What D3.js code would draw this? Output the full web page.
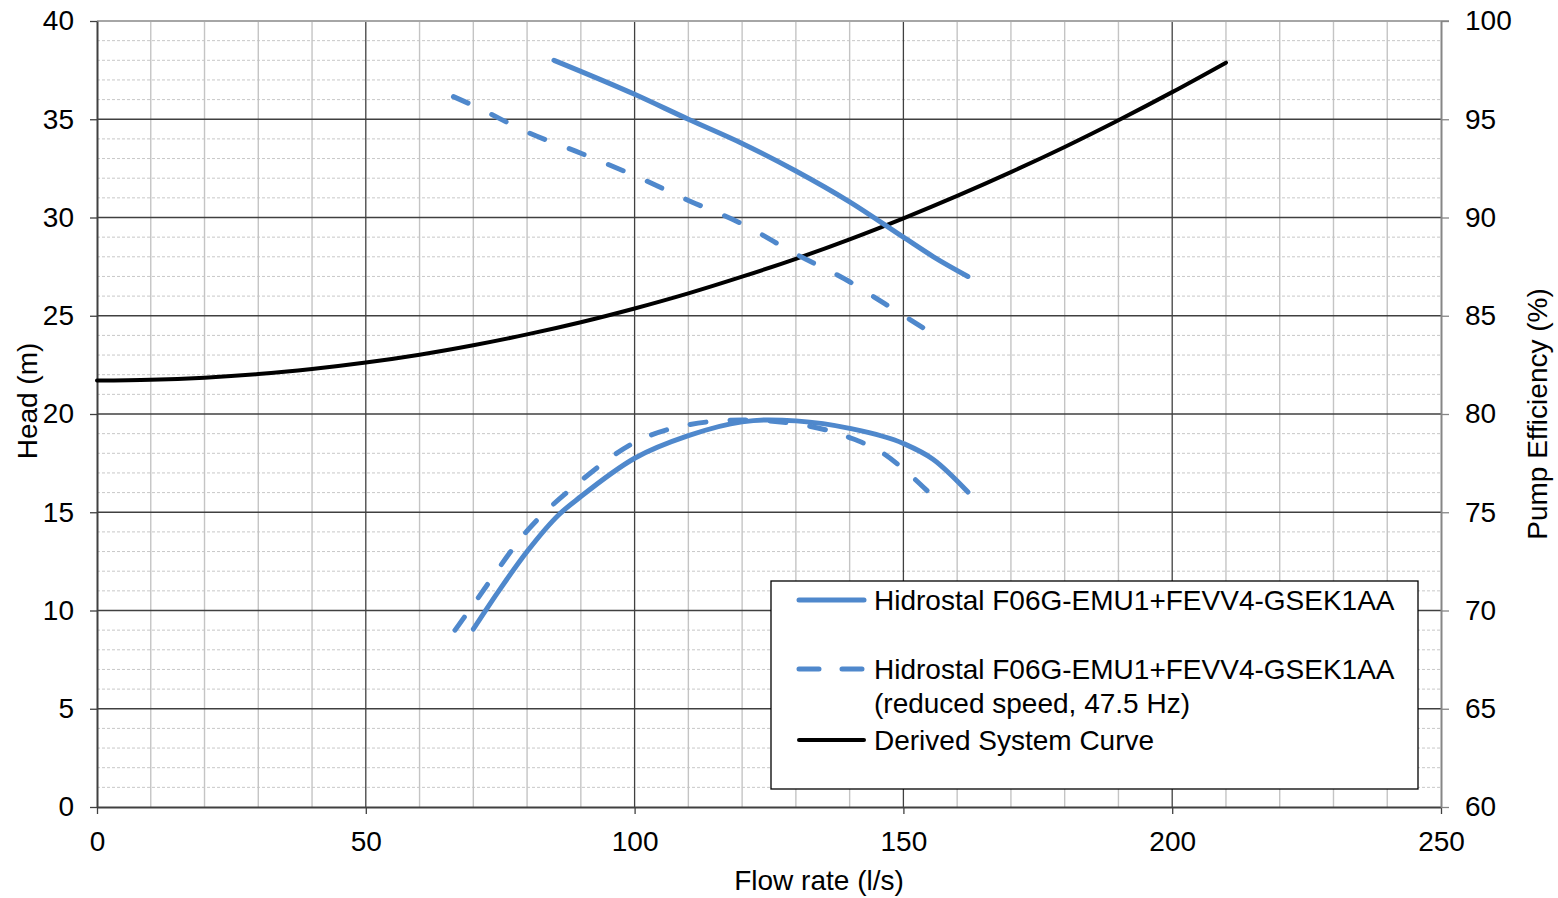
<!DOCTYPE html>
<html>
<head>
<meta charset="utf-8">
<script src="https://cdn.jsdelivr.net/npm/d3@7"></script>
<style>
  html, body { margin: 0; padding: 0; background: #fff; }
  svg { display: block; font-family: "Liberation Sans", Arial, sans-serif; }
</style>
</head>
<body>
<svg id="chart" width="1558" height="898"></svg>
<script>
// Pump head curves (left axis, m) and efficiency curves (right axis, %)
const headFullFlow = [85, 100, 110, 120, 130, 140, 150, 155.6, 162];
const headFullVal  = [38.0, 36.27, 35.0, 33.77, 32.37, 30.8, 29.0, 28.0, 27.0];

const headRedFlow = [66.3, 70, 80, 90, 100, 110, 120, 130, 140, 146.6, 153.6];
const headRedVal  = [36.15, 35.7, 34.35, 33.27, 32.13, 30.87, 29.67, 28.14, 26.73, 25.6, 24.4];

const effFullFlow = [70, 75, 80, 86, 90, 100, 110, 120, 125, 130, 140, 150, 155.5, 162];
const effFullVal  = [69.05, 71.1, 73.0, 74.9, 75.8, 77.75, 78.9, 79.6, 79.7, 79.65, 79.27, 78.5, 77.7, 76.03];

const effRedFlow = [66.6, 70, 80, 90, 100, 110, 120, 130, 140, 146.5, 150, 154.4];
const effRedVal  = [69.0, 70.3, 74.05, 76.6, 78.55, 79.45, 79.7, 79.5, 78.8, 77.95, 77.2, 76.1];

// Derived system curve (left axis, m)
const sysFlow = [0, 10, 20, 30, 40, 50, 60, 70, 80, 90, 100, 110, 120, 130, 140, 150, 160, 170, 180, 190, 200, 210];
const sysVal  = [21.70, 21.74, 21.85, 22.03, 22.29, 22.62, 23.02, 23.50, 24.05, 24.67, 25.37, 26.14, 26.99, 27.90, 28.89, 29.96, 31.10, 32.31, 33.59, 34.95, 36.38, 37.88];

const xTicks = [0, 50, 100, 150, 200, 250];
const yLeftTicks = [0, 5, 10, 15, 20, 25, 30, 35, 40];
const yRightTicks = [60, 65, 70, 75, 80, 85, 90, 95, 100];

const legendLabels = [
  ["Hidrostal F06G-EMU1+FEVV4-GSEK1AA"],
  ["Hidrostal F06G-EMU1+FEVV4-GSEK1AA", "(reduced speed, 47.5 Hz)"],
  ["Derived System Curve"]
];

const BLUE = "#4f88cc";
const FONT = "28px";
const svg = d3.select("#chart");
const L = 97, R = 1441, T = 21, B = 807;

const x = d3.scaleLinear().domain([0, 250]).range([L, R]);
const yL = d3.scaleLinear().domain([0, 40]).range([B, T]);
const yR = d3.scaleLinear().domain([60, 100]).range([B, T]);

// grid: minor horizontal (dashed), minor vertical (solid light)
const grid = svg.append("g");
grid.selectAll(".hminor").data(d3.range(0, 41, 1).filter(v => v % 5 !== 0)).join("line")
  .attr("x1", L).attr("x2", R).attr("y1", d => yL(d)).attr("y2", d => yL(d))
  .attr("stroke", "#c8c8c8").attr("stroke-width", 1).attr("stroke-dasharray", "3,2");
grid.selectAll(".vminor").data(d3.range(0, 251, 10).filter(v => v % 50 !== 0)).join("line")
  .attr("x1", d => x(d)).attr("x2", d => x(d)).attr("y1", T).attr("y2", B)
  .attr("stroke", "#c4c4c4").attr("stroke-width", 1.4);
// major grid
grid.selectAll(".hmajor").data(yLeftTicks.filter(v => v > 0 && v < 40)).join("line")
  .attr("x1", L).attr("x2", R).attr("y1", d => yL(d)).attr("y2", d => yL(d))
  .attr("stroke", "#404040").attr("stroke-width", 1.3);
grid.selectAll(".vmajor").data(xTicks.filter(v => v > 0 && v < 250)).join("line")
  .attr("x1", d => x(d)).attr("x2", d => x(d)).attr("y1", T).attr("y2", B)
  .attr("stroke", "#404040").attr("stroke-width", 1.3);

// top frame line
svg.append("line").attr("x1", L).attr("x2", R + 8).attr("y1", T).attr("y2", T)
  .attr("stroke", "#a6a6a6").attr("stroke-width", 2);

// axes
function styleAxis(g, color) {
  g.selectAll("path.domain").attr("stroke", color).attr("stroke-width", 2);
  g.selectAll(".tick line").attr("stroke", color).attr("stroke-width", 1.3);
  g.selectAll(".tick text").attr("fill", "#000").style("font-size", FONT)
    .style("font-family", "'Liberation Sans', Arial, sans-serif");
}
const gx = svg.append("g").attr("transform", `translate(0,${B})`)
  .call(d3.axisBottom(x).tickValues(xTicks).tickSize(7).tickSizeOuter(0).tickPadding(17));
styleAxis(gx, "#404040");
const gyL = svg.append("g").attr("transform", `translate(${L},0)`)
  .call(d3.axisLeft(yL).tickValues(yLeftTicks).tickSize(7).tickSizeOuter(0).tickPadding(16));
styleAxis(gyL, "#404040");
const gyR = svg.append("g").attr("transform", `translate(${R},0)`)
  .call(d3.axisRight(yR).tickValues(yRightTicks).tickSize(8).tickSizeOuter(0).tickPadding(16));
styleAxis(gyR, "#868686");

// axis titles
svg.append("text").attr("x", 819).attr("y", 890).attr("text-anchor", "middle")
  .style("font-size", FONT).text("Flow rate (l/s)");
svg.append("text").attr("transform", "translate(37,401) rotate(-90)").attr("text-anchor", "middle")
  .style("font-size", FONT).text("Head (m)");
svg.append("text").attr("transform", "translate(1547,414) rotate(-90)").attr("text-anchor", "middle")
  .style("font-size", FONT).text("Pump Efficiency (%)");

// curves
const zip = (a, b) => a.map((v, i) => [v, b[i]]);
const lineL = d3.line().x(d => x(d[0])).y(d => yL(d[1])).curve(d3.curveMonotoneX);
const lineR = d3.line().x(d => x(d[0])).y(d => yR(d[1])).curve(d3.curveMonotoneX);

// dash pattern stretched slightly so each dashed curve ends on a dash
function fitDash(path, dash, period) {
  const len = path.node().getTotalLength();
  const n = Math.max(1, Math.round((len - dash) / period));
  const p = (len - dash) / n;
  path.attr("stroke-dasharray", `${dash},${p - dash}`);
}

const curves = svg.append("g").attr("fill", "none").attr("stroke-linecap", "round").attr("stroke-linejoin", "round");
curves.append("path").attr("d", lineL(zip(sysFlow, sysVal)))
  .attr("stroke", "#000").attr("stroke-width", 4);
curves.append("path").attr("d", lineL(zip(headFullFlow, headFullVal)))
  .attr("stroke", BLUE).attr("stroke-width", 5);
curves.append("path").attr("d", lineR(zip(effFullFlow, effFullVal)))
  .attr("stroke", BLUE).attr("stroke-width", 5);
const dHead = curves.append("path").attr("d", lineL(zip(headRedFlow, headRedVal)))
  .attr("stroke", BLUE).attr("stroke-width", 5);
fitDash(dHead, 16, 41);
const dEff = curves.append("path").attr("d", lineR(zip(effRedFlow, effRedVal)))
  .attr("stroke", BLUE).attr("stroke-width", 5);
fitDash(dEff, 16, 41);

// legend
const lg = svg.append("g");
lg.append("rect").attr("x", 771).attr("y", 581).attr("width", 647).attr("height", 208)
  .attr("fill", "#fff").attr("stroke", "#000").attr("stroke-width", 1.3);
const legendStyles = [
  { stroke: BLUE, dash: null, y: 600 },
  { stroke: BLUE, dash: "20,23", y: 669 },
  { stroke: "#000", dash: null, y: 740 }
];
legendStyles.forEach((s, i) => {
  lg.append("line").attr("x1", 799).attr("x2", 864).attr("y1", s.y).attr("y2", s.y)
    .attr("stroke", s.stroke).attr("stroke-width", s.stroke === "#000" ? 4 : 5)
    .attr("stroke-linecap", "round").attr("stroke-dasharray", s.dash);
  legendLabels[i].forEach((t, j) => {
    lg.append("text").attr("x", 874).attr("y", s.y + 10 + j * 34)
      .style("font-size", FONT).text(t);
  });
});
</script>
</body>
</html>
